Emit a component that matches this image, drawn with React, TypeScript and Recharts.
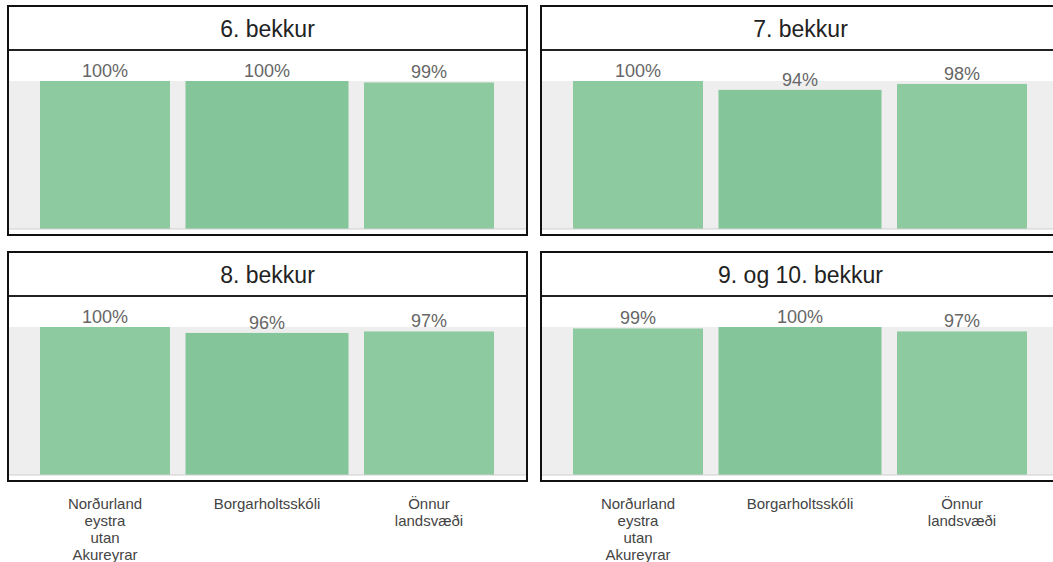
import { BarChart, Bar, XAxis, YAxis, Cell, LabelList, CartesianGrid, ReferenceLine } from "recharts";

const categories = ["Norðurland eystra utan Akureyrar", "Borgarholtsskóli", "Önnur landsvæði"];
const grade6 = [100, 100, 99];
const grade7 = [100, 94, 98];
const grade8 = [100, 96, 97];
const grade9and10 = [99, 100, 97];
const panelTitles = ["6. bekkur", "7. bekkur", "8. bekkur", "9. og 10. bekkur"];

const FONT = "Arial, 'Liberation Sans', Helvetica, sans-serif";
const BAR_COLORS = ["#8dca9f", "#84c69a", "#8dca9f"];

const PANEL_W = 521;
const PANEL_H = 231;
const TITLE_H = 42;
const CHART_W = 517;
const CHART_H = 183;
const TICK_AREA = 95;

// middle bar is drawn wider than the others in the original
function WideMiddleBar(props: any) {
  const { x, y, width, height, fill, payload } = props;
  const wide = categories.indexOf(payload.name) === 1;
  const w = wide ? width * 1.254 : width;
  return <rect x={x + width / 2 - w / 2} y={y} width={w} height={height} fill={fill} />;
}

function CategoryTick({ x, y, payload }: any) {
  const words = String(payload.value).split(" ");
  return (
    <text x={x} y={y} textAnchor="middle" fill="#444" fontSize={15} fontFamily={FONT}>
      {words.map((w, i) => (
        <tspan key={i} x={x} dy={i === 0 ? 33.5 : 17.2}>
          {w}
        </tspan>
      ))}
    </text>
  );
}

function Panel({ title, values, left, top, showTicks }: { title: string; values: number[]; left: number; top: number; showTicks: boolean }) {
  const data = categories.map((name, i) => ({ name, value: values[i] }));
  return (
    <>
      <div style={{ position: "absolute", left: left + 2, top: top + 2 + TITLE_H + 2 }}>
        <BarChart
          width={CHART_W}
          height={CHART_H + (showTicks ? TICK_AREA : 0)}
          data={data}
          margin={{ top: 30, right: 0, bottom: 5, left: 0 }}
        >
          <CartesianGrid horizontal={false} vertical={false} fill="#eeeeee" fillOpacity={1} stroke="none" />
          <YAxis hide domain={[0, 100]} />
          <XAxis
            dataKey="name"
            hide={!showTicks}
            height={TICK_AREA}
            axisLine={false}
            tickLine={false}
            tickSize={0}
            tickMargin={0}
            interval={0}
            padding={{ left: 15, right: 16 }}
            tick={<CategoryTick />}
          />
          <ReferenceLine y={0} stroke="#cfcfcf" />
          <Bar dataKey="value" barSize={130} isAnimationActive={false} shape={<WideMiddleBar />}>
            {data.map((_, i) => (
              <Cell key={i} fill={BAR_COLORS[i]} />
            ))}
            <LabelList
              dataKey="value"
              position="top"
              offset={4}
              fill="#666"
              fontSize={18}
              fontFamily={FONT}
              formatter={(v: any) => `${v}%`}
            />
          </Bar>
        </BarChart>
      </div>
      <div
        style={{
          position: "absolute",
          left,
          top,
          width: PANEL_W,
          height: PANEL_H,
          boxSizing: "border-box",
          border: "2px solid #111",
          pointerEvents: "none",
        }}
      >
        <div
          style={{
            height: TITLE_H,
            borderBottom: "2px solid #222",
            background: "#fff",
            textAlign: "center",
            lineHeight: `${TITLE_H + 2}px`,
            fontSize: 23,
            color: "#222",
            fontFamily: FONT,
          }}
        >
          {title}
        </div>
      </div>
    </>
  );
}

export default function App() {
  return (
    <div style={{ position: "fixed", left: 0, top: 0, width: 1053, height: 562, overflow: "hidden", background: "#fff" }}>
      <Panel title={panelTitles[0]} values={grade6} left={7} top={5} showTicks={false} />
      <Panel title={panelTitles[1]} values={grade7} left={540} top={5} showTicks={false} />
      <Panel title={panelTitles[2]} values={grade8} left={7} top={251} showTicks />
      <Panel title={panelTitles[3]} values={grade9and10} left={540} top={251} showTicks />
    </div>
  );
}
